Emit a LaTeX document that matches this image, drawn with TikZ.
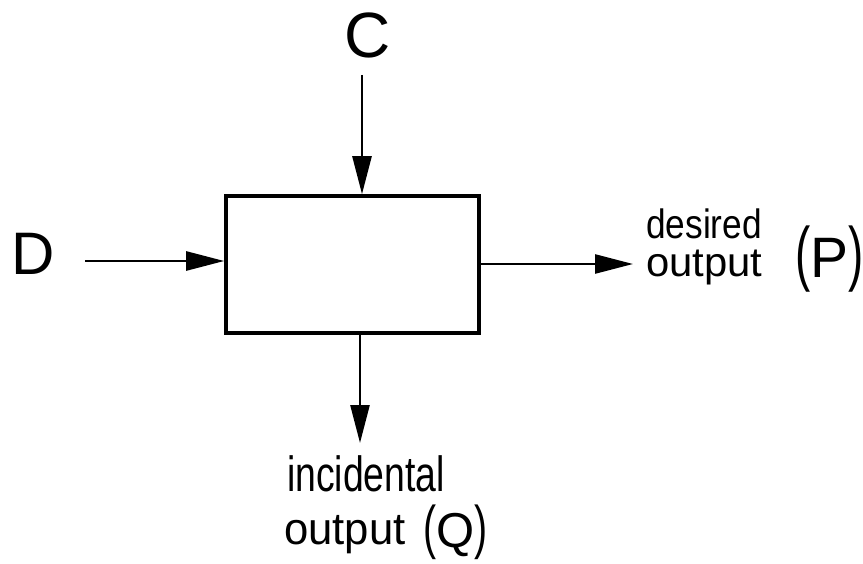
\documentclass[tikz,border=0pt]{standalone}
\usepackage{fontspec}
\setmainfont{Liberation Sans}
\usetikzlibrary{arrows.meta}
\tikzset{
  flow/.style={line width=2.6pt, -{Triangle[length=38pt,width=19pt]}},
  procbox/.style={draw, line width=3.6pt, inner sep=0pt, minimum width=253pt, minimum height=137pt},
  lab/.style={inner sep=0pt, anchor=base west},
}
\begin{document}
\begin{tikzpicture}[x=1pt,y=-1pt]
\useasboundingbox (0,0) rectangle (863,564);
% process box
\node[procbox] (box) at (352.5,264.5) {};
% letters
\node[inner sep=0pt, anchor=base] (C) at (368,58) {\fontsize{64}{64}\selectfont C};
\node[inner sep=0pt, anchor=base west] (D) at (11,275) {\fontsize{60}{60}\selectfont D};
% free ends
\coordinate (cstart) at (362,75);
\coordinate (dstart) at (85,261);
\coordinate (pend) at (633,264);
\coordinate (qend) at (360,443);
% labels
\node[lab] (des) at (646,277) {\fontsize{41}{38}\selectfont\vbox{\hbox{\scalebox{0.86}[1]{desired}}\hbox{\scalebox{1.02}[1]{output}}}};
\node[lab] (P) at (795,278) {\fontsize{57}{57}\selectfont\scalebox{0.8}[1.25]{(}P\scalebox{0.8}[1.25]{)}};
\node[lab] (inc) at (284,544) {\fontsize{45}{53}\selectfont\vbox{\hbox{\hspace*{3pt}\scalebox{0.83}[1.1]{incidental}}\hbox{\scalebox{0.97}[1]{output}}}};
\node[lab] (Q) at (423,547) {\fontsize{49}{49}\selectfont\scalebox{0.8}[1.2]{(}Q\scalebox{0.8}[1.2]{)}};
% connectors
\draw[flow] (cstart) -- (cstart |- box.north);
\draw[flow] (dstart) -- (box.west |- dstart);
\draw[flow] (box.east |- pend) -- (pend);
\draw[flow] (qend |- box.south) -- (qend);
\end{tikzpicture}
\end{document}
